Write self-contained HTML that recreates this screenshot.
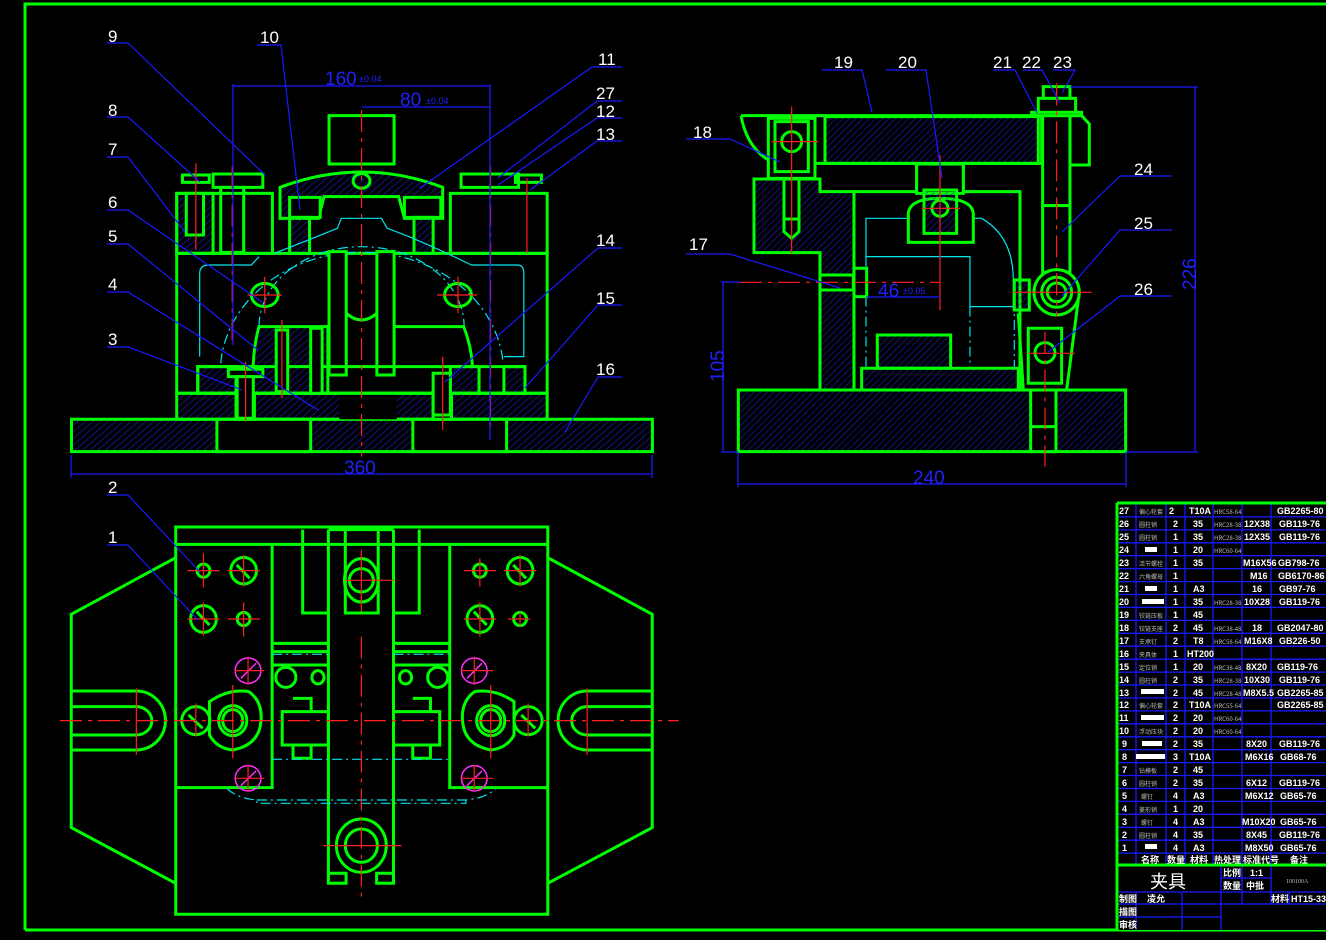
<!DOCTYPE html>
<html><head><meta charset="utf-8"><style>
html,body{margin:0;padding:0;background:#000;width:1326px;height:940px;overflow:hidden}
svg{display:block}
svg *{vector-effect:non-scaling-stroke}
.g{stroke:#00ff00;stroke-width:3;fill:none}
.gh{stroke:#00ff00;stroke-width:3;fill:url(#h)}
.gb{stroke:#00ff00;stroke-width:3;fill:#000}
.c{stroke:#00e5ee;stroke-width:1.2;fill:none}
.cd{stroke:#00e5ee;stroke-width:1.2;fill:none;stroke-dasharray:10 4 2 4}
.r{stroke:#ff2020;stroke-width:1.2;fill:none}
.rd{stroke:#ff2020;stroke-width:1.2;fill:none;stroke-dasharray:22 6 4 6}
.b{stroke:#1a1aff;stroke-width:1.2;fill:none}
.m{stroke:#ff30ff;stroke-width:1.5;fill:none}
.lab{fill:#fff;font:17px "Liberation Sans",sans-serif}
.dim{fill:#2020ff;font:19px "Liberation Sans",sans-serif}
.dims{fill:#2020ff;font:9px "Liberation Sans",sans-serif}
.t{fill:#fff;font:bold 9px "Liberation Sans","Noto Sans CJK SC",sans-serif}
.tn{fill:#bbb;font:6px "Noto Sans CJK SC",sans-serif}
</style></head><body>
<svg width="1326" height="940" viewBox="0 0 1326 940" xmlns="http://www.w3.org/2000/svg">
<defs>
<pattern id="h" patternUnits="userSpaceOnUse" width="14" height="14" patternTransform="rotate(45)">
<line x1="0" y1="0" x2="0" y2="14" stroke="#2222ee" stroke-width="3"/></pattern>
<pattern id="hc" patternUnits="userSpaceOnUse" width="16" height="16" patternTransform="rotate(45)">
<line x1="0" y1="0" x2="0" y2="16" stroke="#00d0d0" stroke-width="3" stroke-dasharray="6 3"/></pattern>
</defs>
<rect x="0" y="0" width="1326" height="940" fill="#000"/>
<!-- frame -->
<path d="M25,930 V4 H1326" class="g"/>
<line x1="25" y1="930" x2="1326" y2="930" class="g"/>

<!-- ===== FRONT VIEW ===== -->
<g transform="translate(60,100) scale(0.3827,0.3333)">
<rect x="30" y="958" width="1518" height="97" class="gh"/>
<rect x="410" y="958" width="245" height="97" class="gb"/>
<rect x="922" y="958" width="245" height="97" class="gb"/>
<rect x="305" y="880" width="968" height="78" class="gh"/>
<rect x="460" y="880" width="48" height="78" class="gb"/>
<rect x="975" y="880" width="48" height="78" class="gb"/>
<rect x="730" y="880" width="150" height="78" class="gb" style="stroke:none"/>
<rect x="305" y="460" width="968" height="420" class="g"/>
<rect x="305" y="280" width="250" height="180" class="g"/>
<rect x="305" y="280" width="95" height="180" class="gh"/>
<rect x="330" y="280" width="45" height="125" class="gb"/>
<rect x="320" y="225" width="70" height="22" class="g"/>
<rect x="400" y="222" width="130" height="40" class="g"/>
<rect x="420" y="262" width="60" height="195" class="g"/>
<rect x="1020" y="280" width="253" height="180" class="g"/>
<rect x="1048" y="222" width="150" height="40" class="g"/>
<rect x="1190" y="225" width="68" height="22" class="g"/>
<rect x="703" y="47" width="170" height="145" class="g"/>
<path d="M575,262 Q788,170 1000,262 V355 H900 L885,290 H690 L675,355 H575 Z" class="gh"/>
<circle cx="788" cy="243" r="22" class="g"/>
<rect x="600" y="292" width="80" height="60" class="gb"/>
<rect x="900" y="292" width="95" height="60" class="gb"/>
<rect x="600" y="352" width="52" height="108" class="gh"/>
<rect x="925" y="352" width="50" height="108" class="gh"/>
<path d="M560,460 Q650,420 725,385 L735,355 H840 L855,385 Q940,420 1075,495 H1195 Q1212,495 1212,520 V770 H1160" class="c"/>
<path d="M365,770 V520 Q365,495 390,495 H500 L520,470" class="c"/>
<path d="M420,790 A370,360 0 0 1 1158,790" class="cd"/>
<path d="M520,680 A268,240 0 0 1 1056,680" class="cd"/>
<path d="M520,680 H700 V880 H505 Q500,760 520,680 Z" class="gh"/>
<path d="M873,680 H1055 Q1075,740 1078,800" class="g"/>
<rect x="703" y="455" width="45" height="370" class="gb"/>
<rect x="828" y="455" width="45" height="370" class="gb"/>
<path d="M748,640 Q788,680 828,640" class="g"/>
<rect x="360" y="800" width="855" height="80" class="g"/>
<rect x="360" y="800" width="100" height="80" class="gh"/>
<rect x="1020" y="800" width="75" height="80" class="gh"/>
<rect x="1160" y="800" width="55" height="80" class="gh"/>
<rect x="440" y="808" width="90" height="22" class="gb"/>
<rect x="463" y="830" width="42" height="125" class="gb"/>
<rect x="565" y="690" width="30" height="185" class="gb"/>
<rect x="655" y="685" width="30" height="195" class="gb"/>
<rect x="975" y="820" width="45" height="125" class="gb"/>
<circle cx="535" cy="585" r="35" class="g"/>
<circle cx="1040" cy="585" r="35" class="g"/>
<line x1="788" y1="30" x2="788" y2="1070" class="rd"/>
<line x1="450" y1="200" x2="450" y2="735" class="rd"/>
<line x1="1125" y1="200" x2="1125" y2="990" class="rd"/>
<line x1="355" y1="190" x2="355" y2="450" class="r"/>
<line x1="1220" y1="235" x2="1220" y2="460" class="r"/>
<line x1="485" y1="785" x2="485" y2="965" class="r"/>
<line x1="1000" y1="770" x2="1000" y2="990" class="r"/>
<line x1="580" y1="660" x2="580" y2="895" class="r"/>
<line x1="490" y1="585" x2="580" y2="585" class="r"/><line x1="535" y1="530" x2="535" y2="640" class="r"/>
<line x1="985" y1="585" x2="1090" y2="585" class="r"/><line x1="1040" y1="530" x2="1040" y2="640" class="r"/>
</g>
<!-- front dims -->
<g class="b">
<line x1="233" y1="86" x2="490" y2="86"/><line x1="362" y1="107" x2="490" y2="107"/>
<line x1="233" y1="84" x2="233" y2="345"/><line x1="490" y1="84" x2="490" y2="440"/>
<line x1="71" y1="474" x2="652" y2="474"/><line x1="71" y1="455" x2="71" y2="478"/><line x1="652" y1="455" x2="652" y2="478"/>
</g>
<text x="325" y="85" class="dim">160</text><text x="359" y="82" class="dims">±0.04</text>
<text x="400" y="106" class="dim">80</text><text x="426" y="104" class="dims">±0.04</text>
<text x="344" y="474" class="dim">360</text>

<!-- ===== SIDE VIEW ===== -->
<g transform="translate(680,50) scale(0.3333)">
<rect x="175" y="1020" width="1162" height="185" class="gh"/>
<rect x="1052" y="1020" width="76" height="185" class="gb"/>
<line x1="1052" y1="1130" x2="1128" y2="1130" class="g"/>
<path d="M222,387 H420 V425 H522 V1020 H420 V608 H222 Z" class="gh"/>
<rect x="522" y="425" width="498" height="595" class="g"/>
<path d="M558,505 H905 Q1000,560 1000,690 V770 H870 V620 H558 Z" fill="url(#hc)" class="c"/>
<path d="M558,620 V955 M870,770 V955 M1003,690 V955" class="cd"/>
<rect x="545" y="955" width="470" height="65" class="gh"/>
<rect x="592" y="855" width="220" height="100" class="gh"/>
<path d="M183,197 H1085 V340 H850 V425 H710 V340 H405" class="g"/>
<rect x="435" y="200" width="640" height="140" class="gh"/>
<path d="M183,197 Q200,290 265,330" class="g"/>
<path d="M405,340 V387 H420" class="g"/>
<rect x="265" y="205" width="140" height="180" class="gb"/>
<rect x="285" y="215" width="100" height="150" class="g"/>
<circle cx="335" cy="275" r="30" class="g"/>
<rect x="312" y="387" width="45" height="120" class="gb"/>
<path d="M312,507 H357 V545 L335,565 L312,545 Z" class="gb"/>
<rect x="710" y="342" width="140" height="88" class="gb"/>
<path d="M685,577 V490 Q690,445 780,445 Q875,445 880,490 V577 Z" class="gb"/>
<rect x="732" y="420" width="98" height="130" class="gh"/>
<circle cx="780" cy="475" r="24" class="g" fill="#000"/>
<rect x="420" y="675" width="100" height="45" class="gb"/>
<rect x="522" y="655" width="38" height="85" class="gb"/>
<rect x="1003" y="690" width="45" height="90" class="gh"/>
<path d="M1170,197 H1205 L1228,222 V345 H1170 Z" class="gb"/>
<rect x="1088" y="197" width="82" height="270" class="gb"/>
<rect x="1088" y="467" width="82" height="200" class="gb"/>
<rect x="1090" y="110" width="80" height="35" class="gb"/>
<rect x="1075" y="145" width="112" height="42" class="gb"/>
<rect x="1055" y="187" width="150" height="10" class="gb"/>
<path d="M1015,790 L1030,1020 H1160 L1195,750" class="g"/>
<circle cx="1130" cy="727" r="68" class="gb"/>
<circle cx="1130" cy="727" r="45" class="g"/>
<circle cx="1130" cy="727" r="28" class="g"/>
<rect x="1045" y="835" width="100" height="165" class="gb"/>
<circle cx="1095" cy="908" r="30" class="g"/>
<line x1="780" y1="315" x2="780" y2="780" class="r"/>
<line x1="725" y1="475" x2="840" y2="475" class="r"/>
<line x1="335" y1="170" x2="335" y2="610" class="r"/>
<line x1="275" y1="275" x2="415" y2="275" class="r"/>
<line x1="180" y1="697" x2="780" y2="697" class="rd"/>
<line x1="1130" y1="100" x2="1130" y2="800" class="rd"/>
<line x1="1000" y1="727" x2="1235" y2="727" class="r"/>
<line x1="1095" y1="845" x2="1095" y2="1250" class="rd"/>
<line x1="1045" y1="910" x2="1185" y2="910" class="r"/>
</g>
<g class="b">
<line x1="1195" y1="87" x2="1195" y2="452"/><line x1="1070" y1="87" x2="1198" y2="87"/><line x1="1126" y1="452" x2="1198" y2="452"/>
<line x1="723" y1="282" x2="723" y2="452"/><line x1="721" y1="282" x2="740" y2="282"/><line x1="721" y1="452" x2="738" y2="452"/>
<line x1="738" y1="484" x2="1126" y2="484"/><line x1="738" y1="452" x2="738" y2="487"/><line x1="1126" y1="452" x2="1126" y2="487"/>
<line x1="866" y1="297" x2="940" y2="297"/>
</g>
<text x="0" y="0" class="dim" transform="translate(1196,290) rotate(-90)">226</text>
<text x="0" y="0" class="dim" transform="translate(724,382) rotate(-90)">105</text>
<text x="913" y="484" class="dim">240</text>
<text x="878" y="297" class="dim">46</text><text x="903" y="294" class="dims">±0.05</text>

<!-- ===== TOP VIEW ===== -->
<g transform="translate(60,515) scale(0.4018,0.3333)">
<rect x="288" y="36" width="926" height="1162" class="g"/>
<line x1="288" y1="88" x2="1214" y2="88" class="g"/>
<path d="M288,128 L28,298 V938 L288,1105" class="g"/>
<path d="M1214,128 L1474,298 V938 L1214,1105" class="g"/>
<path d="M28,528 H190 A72,88 0 0 1 190,705 H28 M28,575 H190 A38,42 0 0 1 190,660 H28" class="g"/>
<path d="M1474,528 H1312 A72,88 0 0 0 1312,705 H1474 M1474,575 H1312 A38,42 0 0 0 1312,660 H1474" class="g"/>
<path d="M528,88 V818 H288 M970,88 V818 H1214" class="g"/>
<path d="M604,44 V294 H668 M894,44 V294 H830 M710,44 V294 H792 V44" class="g"/>
<path d="M668,44 V1105 H712 V1075 H668 M830,44 V1105 H788 V1075 H830" class="g"/>
<line x1="668" y1="44" x2="830" y2="44" class="g"/>
<path d="M528,385 H668 M528,410 H668 M528,450 H668 M830,385 H970 M830,410 H970 M830,450 H970" class="g"/>
<path d="M553,590 H668 V690 H553 Z M580,550 H625 V590 M580,690 V730 H625 V690 M830,590 H945 V690 H830 M878,550 H922 V590 M878,690 V730 H922 V690" class="g"/>
<ellipse cx="750" cy="196" rx="42" ry="65" class="g"/><ellipse cx="750" cy="196" rx="30" ry="35" class="g"/>
<g class="g">
<ellipse cx="457" cy="167" rx="32" ry="40"/><ellipse cx="357" cy="312" rx="32" ry="40"/>
<ellipse cx="1145" cy="167" rx="32" ry="40"/><ellipse cx="1045" cy="312" rx="32" ry="40"/>
<ellipse cx="357" cy="167" rx="16" ry="20"/><ellipse cx="457" cy="312" rx="16" ry="20"/>
<ellipse cx="1045" cy="167" rx="16" ry="20"/><ellipse cx="1145" cy="312" rx="16" ry="20"/>
<ellipse cx="562" cy="487" rx="25" ry="30"/><ellipse cx="642" cy="487" rx="15" ry="20"/>
<ellipse cx="940" cy="487" rx="25" ry="30"/><ellipse cx="860" cy="487" rx="15" ry="20"/>
<path d="M372,560 Q420,520 470,530 Q505,560 500,620 Q495,690 430,705 Q390,700 372,660 Z"/>
<ellipse cx="430" cy="617" rx="35" ry="45"/><ellipse cx="430" cy="617" rx="25" ry="33"/>
<path d="M1130,560 Q1082,520 1032,530 Q997,560 1002,620 Q1007,690 1072,705 Q1112,700 1130,660 Z"/>
<ellipse cx="1072" cy="617" rx="35" ry="45"/><ellipse cx="1072" cy="617" rx="25" ry="33"/>
<ellipse cx="338" cy="617" rx="35" ry="42"/><ellipse cx="1165" cy="617" rx="35" ry="42"/>
<ellipse cx="750" cy="992" rx="62" ry="80"/><ellipse cx="750" cy="992" rx="40" ry="50"/>
<path d="M340,290 L372,330 M440,150 L472,190 M1030,290 L1062,330 M1128,150 L1160,190 M320,600 L355,640 M1148,600 L1183,640"/>
</g>
<g class="m">
<ellipse cx="468" cy="467" rx="32" ry="38"/><ellipse cx="468" cy="790" rx="32" ry="38"/>
<ellipse cx="1031" cy="467" rx="32" ry="38"/><ellipse cx="1031" cy="790" rx="32" ry="38"/>
<path d="M450,490 L488,445 M450,812 L488,768 M1013,490 L1050,445 M1013,812 L1050,768"/>
</g>
<path d="M528,733 H970 M528,418 H668 M830,418 H970" class="cd"/>
<path d="M415,820 Q440,850 490,855 V865 H1010 V855 Q1060,850 1085,820 M490,855 H1010" class="cd"/>
<line x1="0" y1="617" x2="1540" y2="617" class="rd"/>
<line x1="750" y1="365" x2="750" y2="1145" class="rd"/>
<g class="r">
<path d="M190,520 V720 M1312,520 V720 M430,510 V730 M1072,510 V730 M338,565 V665 M1165,565 V665 M655,992 H850 M710,196 H830 M750,105 V290"/>
<path d="M317,167 H397 M357,115 V217 M417,167 H497 M457,120 V215 M317,312 H397 M357,262 V362 M417,312 H497 M457,262 V365"/>
<path d="M1005,167 H1085 M1045,130 V215 M1105,167 H1185 M1145,120 V215 M1005,312 H1085 M1045,262 V365 M1115,312 H1170 M1145,290 V335"/>
<path d="M435,467 H508 M468,425 V510 M435,790 H508 M468,750 V830 M998,467 H1078 M1031,425 V510 M998,790 H1078 M1031,750 V830"/>
</g>
</g>

<!-- leaders -->
<g class="b">
<path d="M107,43 H128 L265,175"/><path d="M257,45 H281 L300,210"/>
<path d="M107,117 H128 L200,182"/><path d="M107,157 H128 L185,232"/>
<path d="M107,210 H128 L262,302"/><path d="M107,244 H128 L258,350"/>
<path d="M107,292 H128 L318,410"/><path d="M107,347 H128 L242,390"/>
<path d="M622,67 H592 L420,188"/><path d="M622,101 H597 L498,178"/>
<path d="M622,118 H597 L498,185"/><path d="M622,141 H597 L530,190"/>
<path d="M622,248 H598 L445,382"/><path d="M622,305 H598 L525,388"/>
<path d="M622,377 H598 L565,432"/>
<path d="M107,495 H128 L200,572"/><path d="M107,545 H128 L198,620"/>
<path d="M822,70 H862 L872,112"/><path d="M886,70 H926 L942,178"/>
<path d="M993,70 H1015 L1037,113"/><path d="M1023,70 H1042 L1060,103"/><path d="M1053,70 H1075 L1062,93"/>
<path d="M686,139 H730 L780,162"/><path d="M686,254 H730 L840,288"/>
<path d="M1172,176 H1120 L1062,232"/><path d="M1172,230 H1120 L1062,296"/><path d="M1172,296 H1120 L1048,352"/>
</g>
<g class="lab">
<text x="108" y="42">9</text><text x="260" y="43">10</text><text x="108" y="116">8</text><text x="108" y="155">7</text>
<text x="108" y="208">6</text><text x="108" y="242">5</text><text x="108" y="290">4</text><text x="108" y="345">3</text>
<text x="598" y="65">11</text><text x="596" y="99">27</text><text x="596" y="117">12</text><text x="596" y="140">13</text>
<text x="596" y="246">14</text><text x="596" y="304">15</text><text x="596" y="375">16</text>
<text x="108" y="493">2</text><text x="108" y="543">1</text>
<text x="834" y="68">19</text><text x="898" y="68">20</text><text x="993" y="68">21</text><text x="1022" y="68">22</text><text x="1053" y="68">23</text>
<text x="693" y="138">18</text><text x="689" y="250">17</text>
<text x="1134" y="175">24</text><text x="1134" y="229">25</text><text x="1134" y="295">26</text>
</g>

<!-- ===== TABLE ===== -->
<g>
<rect x="1116" y="503" width="212" height="427" fill="#000"/>
<g class="b" style="stroke-width:1.3">
<path d="M1117,516.9 H1326 M1117,529.9 H1326 M1117,542.8 H1326 M1117,555.7 H1326 M1117,568.6 H1326 M1117,581.6 H1326 M1117,594.5 H1326 M1117,607.4 H1326 M1117,620.4 H1326 M1117,633.3 H1326 M1117,646.2 H1326 M1117,659.2 H1326 M1117,672.1 H1326 M1117,685 H1326 M1117,698 H1326 M1117,710.9 H1326 M1117,723.8 H1326 M1117,736.8 H1326 M1117,749.7 H1326 M1117,762.6 H1326 M1117,775.5 H1326 M1117,788.5 H1326 M1117,801.4 H1326 M1117,814.3 H1326 M1117,827.3 H1326 M1117,840.2 H1326 M1117,853.1 H1326"/>
<path d="M1136,504 V865 M1166,504 V865 M1185,504 V865 M1213,504 V865 M1242,504 V865 M1271,504 V865"/>
<path d="M1117,892 H1326 M1117,904 H1326 M1117,917 H1221 M1221,878 H1271 M1221,865 V930 M1242,865 V904 M1271,865 V904 M1289,892 V904 M1136,892 V930 M1182,892 V930"/>
</g>
<path d="M1117,503 H1326 M1117,503 V930 M1117,865 H1326" class="g"/>
<g class="t">
<text x="1119" y="514">27</text><text x="1169" y="514">2</text><text x="1189" y="514">T10A</text><text x="1277" y="514">GB2265-80</text>
<text x="1119" y="527">26</text><text x="1173" y="527">2</text><text x="1193" y="527">35</text><text x="1244" y="527">12X38</text><text x="1279" y="527">GB119-76</text>
<text x="1119" y="540">25</text><text x="1173" y="540">1</text><text x="1193" y="540">35</text><text x="1244" y="540">12X35</text><text x="1279" y="540">GB119-76</text>
<text x="1119" y="553">24</text><text x="1173" y="553">1</text><text x="1193" y="553">20</text>
<text x="1119" y="566">23</text><text x="1173" y="566">1</text><text x="1193" y="566">35</text><text x="1243" y="566">M16X56</text><text x="1278" y="566">GB798-76</text>
<text x="1119" y="579">22</text><text x="1173" y="579">1</text><text x="1250" y="579">M16</text><text x="1278" y="579">GB6170-86</text>
<text x="1119" y="592">21</text><text x="1173" y="592">1</text><text x="1193" y="592">A3</text><text x="1252" y="592">16</text><text x="1279" y="592">GB97-76</text>
<text x="1119" y="605">20</text><text x="1173" y="605">1</text><text x="1193" y="605">35</text><text x="1244" y="605">10X28</text><text x="1279" y="605">GB119-76</text>
<text x="1119" y="618">19</text><text x="1173" y="618">1</text><text x="1193" y="618">45</text>
<text x="1119" y="631">18</text><text x="1173" y="631">2</text><text x="1193" y="631">45</text><text x="1252" y="631">18</text><text x="1277" y="631">GB2047-80</text>
<text x="1119" y="644">17</text><text x="1173" y="644">2</text><text x="1193" y="644">T8</text><text x="1244" y="644">M16X8</text><text x="1279" y="644">GB226-50</text>
<text x="1119" y="657">16</text><text x="1173" y="657">1</text><text x="1187" y="657">HT200</text>
<text x="1119" y="670">15</text><text x="1173" y="670">1</text><text x="1193" y="670">20</text><text x="1246" y="670">8X20</text><text x="1277" y="670">GB119-76</text>
<text x="1119" y="683">14</text><text x="1173" y="683">2</text><text x="1193" y="683">35</text><text x="1244" y="683">10X30</text><text x="1279" y="683">GB119-76</text>
<text x="1119" y="696">13</text><text x="1173" y="696">2</text><text x="1193" y="696">45</text><text x="1243" y="696">M8X5.5</text><text x="1277" y="696">GB2265-85</text>
<text x="1119" y="708">12</text><text x="1173" y="708">2</text><text x="1189" y="708">T10A</text><text x="1277" y="708">GB2265-85</text>
<text x="1119" y="721">11</text><text x="1173" y="721">2</text><text x="1193" y="721">20</text>
<text x="1119" y="734">10</text><text x="1173" y="734">2</text><text x="1193" y="734">20</text>
<text x="1122" y="747">9</text><text x="1173" y="747">2</text><text x="1193" y="747">35</text><text x="1246" y="747">8X20</text><text x="1279" y="747">GB119-76</text>
<text x="1122" y="760">8</text><text x="1173" y="760">3</text><text x="1189" y="760">T10A</text><text x="1245" y="760">M6X16</text><text x="1280" y="760">GB68-76</text>
<text x="1122" y="773">7</text><text x="1173" y="773">2</text><text x="1193" y="773">45</text>
<text x="1122" y="786">6</text><text x="1173" y="786">2</text><text x="1193" y="786">35</text><text x="1246" y="786">6X12</text><text x="1279" y="786">GB119-76</text>
<text x="1122" y="799">5</text><text x="1173" y="799">4</text><text x="1193" y="799">A3</text><text x="1245" y="799">M6X12</text><text x="1280" y="799">GB65-76</text>
<text x="1122" y="812">4</text><text x="1173" y="812">1</text><text x="1193" y="812">20</text>
<text x="1122" y="825">3</text><text x="1173" y="825">4</text><text x="1193" y="825">A3</text><text x="1242" y="825">M10X20</text><text x="1280" y="825">GB65-76</text>
<text x="1122" y="838">2</text><text x="1173" y="838">4</text><text x="1193" y="838">35</text><text x="1246" y="838">8X45</text><text x="1279" y="838">GB119-76</text>
<text x="1122" y="851">1</text><text x="1173" y="851">4</text><text x="1193" y="851">A3</text><text x="1245" y="851">M8X50</text><text x="1280" y="851">GB65-76</text>
<text x="1141" y="863">名称</text><text x="1167" y="863">数量</text><text x="1190" y="863">材料</text><text x="1214" y="863">热处理</text><text x="1243" y="863">标准代号</text><text x="1290" y="863">备注</text>
<text x="1223" y="876">比例</text><text x="1250" y="876">1:1</text><text x="1223" y="889">数量</text><text x="1246" y="889">中批</text>
<text x="1119" y="902">制图</text><text x="1147" y="902">凌允</text><text x="1271" y="902">材料</text><text x="1291" y="902">HT15-33</text>
<text x="1119" y="915">描图</text><text x="1119" y="928">审核</text>
</g>
<text x="1150" y="888" style="fill:#fff;font:18px 'Noto Sans CJK SC',sans-serif">夹具</text>
<text x="1286" y="883" style="fill:#bbb;font:6px 'Liberation Serif',serif">100100A</text>
<g class="tn">
<text x="1139" y="514">偏心轮套</text><text x="1139" y="527">圆柱销</text><text x="1139" y="540">圆柱销</text>
<text x="1139" y="566">活节螺栓</text><text x="1139" y="579">六角螺母</text><text x="1139" y="618">铰链压板</text>
<text x="1139" y="631">铰链支座</text><text x="1139" y="644">支承钉</text><text x="1139" y="657">夹具体</text>
<text x="1139" y="670">定位销</text><text x="1139" y="683">圆柱销</text><text x="1139" y="708">偏心轮套</text>
<text x="1139" y="734">浮动压块</text><text x="1139" y="773">钻模板</text><text x="1139" y="786">圆柱销</text>
<text x="1141" y="799">螺钉</text><text x="1139" y="812">菱形销</text><text x="1141" y="825">螺钉</text><text x="1139" y="838">圆柱销</text>
<text x="1214" y="514">HRC58-64</text><text x="1214" y="527">HRC28-38</text><text x="1214" y="540">HRC28-38</text><text x="1214" y="553">HRC60-64</text>
<text x="1214" y="605">HRC28-38</text><text x="1214" y="631">HRC38-48</text><text x="1214" y="644">HRC58-64</text><text x="1214" y="670">HRC38-48</text>
<text x="1214" y="683">HRC28-38</text><text x="1214" y="696">HRC28-48</text><text x="1214" y="708">HRC55-64</text><text x="1214" y="721">HRC60-64</text><text x="1214" y="734">HRC60-64</text>
</g>
<g fill="#fff">
<rect x="1145" y="547" width="12" height="5"/><rect x="1145" y="586" width="12" height="5"/><rect x="1142" y="599" width="22" height="5"/>
<rect x="1141" y="689" width="23" height="5"/><rect x="1141" y="715" width="23" height="5"/><rect x="1142" y="741" width="20" height="5"/>
<rect x="1136" y="754" width="29" height="5"/><rect x="1145" y="844" width="12" height="5"/>
</g>
</g>
</svg>
</body></html>
